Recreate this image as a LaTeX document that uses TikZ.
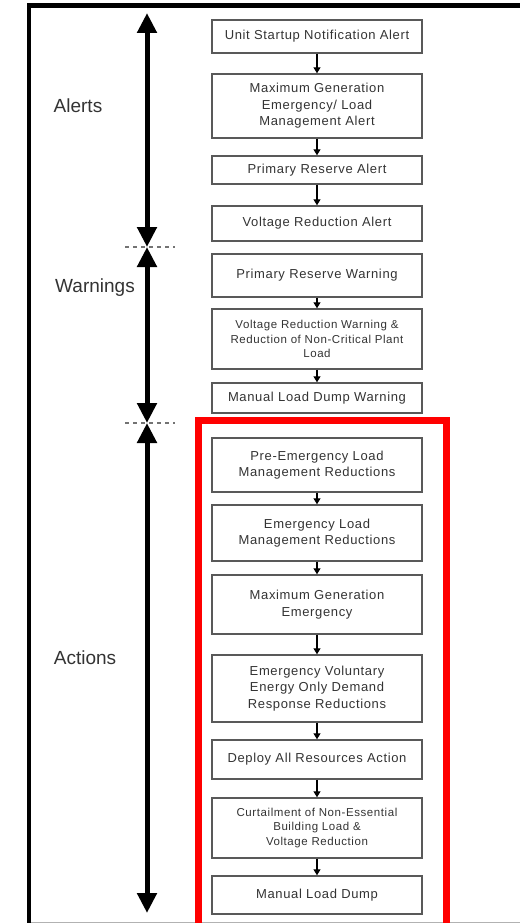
\documentclass[tikz,border=0pt]{standalone}
\usepackage{fontspec}
\setmainfont{Liberation Sans}
\usetikzlibrary{arrows.meta}

\begin{document}
\begin{tikzpicture}[x=1pt, y=1pt,
		main/.style = {draw=black!65, line width=1.4pt, rectangle, minimum width=210pt, align=center, inner sep=2pt, text=black!80, font=\fontsize{13}{16.5}\selectfont\addfontfeature{LetterSpace=5}},
		small/.style = {font=\fontsize{11.5}{14.5}\selectfont\addfontfeature{LetterSpace=5}},
		flow/.style = {-{Triangle[length=6pt,width=7pt]}, line width=1.2pt},
		big/.style = {{Triangle[length=20pt,width=19pt]}-{Triangle[length=20pt,width=19pt]}, line width=5pt},
		sep/.style = {black!55, line width=1.2pt, dash pattern=on 4pt off 4pt},
		stage/.style = {anchor=base, text=black!80, font=\fontsize{19}{22}\selectfont}]
		\useasboundingbox (0,0) rectangle (520,-923);
		
		% frame
		\draw[black!30, line width=1pt] (29,-922.5) -- (520,-922.5);
		\draw[line width=4.5pt] (29,-923) -- (29,-5.5) -- (520,-5.5);
		
		% alerts
		\node[main, minimum height=33pt] (1) at (317,-36.5) {Unit Startup Notification Alert};
		\node[main, minimum height=64pt] (2) at (317,-106) {Maximum Generation\\Emergency/ Load\\Management Alert};
		\node[main, minimum height=28pt] (3) at (317,-170) {Primary Reserve Alert};
		\node[main, minimum height=35pt] (4) at (317,-223.5) {Voltage Reduction Alert};
		% warnings
		\node[main, minimum height=43pt] (5) at (317,-275.5) {Primary Reserve Warning};
		\node[main, small, minimum height=60pt] (6) at (317,-339) {Voltage Reduction Warning \&\\Reduction of Non-Critical Plant\\Load};
		\node[main, minimum height=30pt] (7) at (317,-398) {Manual Load Dump Warning};
		% actions
		\node[main, minimum height=54pt] (8) at (317,-465) {Pre-Emergency Load\\Management Reductions};
		\node[main, minimum height=56pt] (9) at (317,-533) {Emergency Load\\Management Reductions};
		\node[main, minimum height=59pt] (10) at (317,-604.5) {Maximum Generation\\Emergency};
		\node[main, minimum height=67pt] (11) at (317,-688.5) {Emergency Voluntary\\Energy Only Demand\\Response Reductions};
		\node[main, minimum height=39pt] (12) at (317,-759.5) {Deploy All Resources Action};
		\node[main, small, minimum height=60pt] (13) at (317,-828) {Curtailment of Non-Essential\\Building Load \&\\Voltage Reduction};
		\node[main, minimum height=38pt] (14) at (317,-895) {Manual Load Dump};
		
		\draw[flow] (1) -- (2);
		\draw[flow] (2) -- (3);
		\draw[flow] (3) -- (4);
		\draw[flow] (5) -- (6);
		\draw[flow] (6) -- (7);
		\draw[flow] (8) -- (9);
		\draw[flow] (9) -- (10);
		\draw[flow] (10) -- (11);
		\draw[flow] (11) -- (12);
		\draw[flow] (12) -- (13);
		\draw[flow] (13) -- (14);
		
		% red frame round the actions
		\draw[red, line width=7pt] (198,-923) -- (198,-420.5) -- (446,-420.5) -- (446,-923);
		
		% stages
		\coordinate (t0) at (147,-13);
		\coordinate (t1) at (147,-247);
		\coordinate (t2) at (147,-423);
		\coordinate (t3) at (147,-913);
		\draw[big] (t0) -- (t1);
		\draw[big] (t1) -- (t2);
		\draw[big] (t2) -- (t3);
		
		\coordinate (s1l) at (125,-247);
		\coordinate (s1r) at (175,-247);
		\coordinate (s2l) at (125,-423);
		\coordinate (s2r) at (175,-423);
		\draw[sep] (s1l) -- (s1r);
		\draw[sep] (s2l) -- (s2r);
		
		\node[stage] (alerts) at (78,-113) {Alerts};
		\node[stage] (warnings) at (95,-292) {Warnings};
		\node[stage] (actions) at (85,-664) {Actions};
	\end{tikzpicture}
\end{document}
